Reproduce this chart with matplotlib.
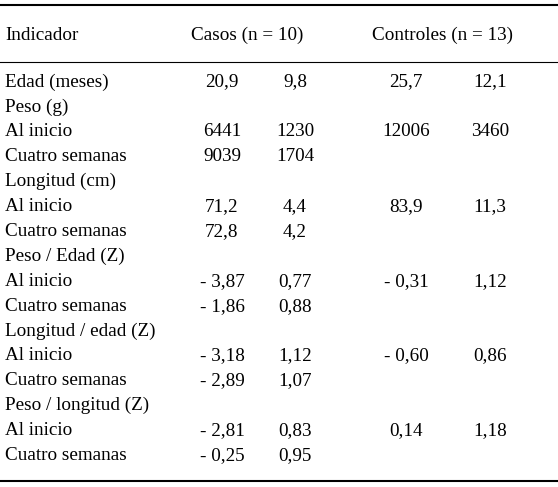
import matplotlib.pyplot as plt

plt.rcParams['font.family'] = ['Liberation Serif', 'DejaVu Serif']

labels = ['Edad (meses)', 'Peso (g)', 'Al inicio', 'Cuatro semanas',
          'Longitud (cm)', 'Al inicio', 'Cuatro semanas',
          'Peso / Edad (Z)', 'Al inicio', 'Cuatro semanas',
          'Longitud / edad (Z)', 'Al inicio', 'Cuatro semanas',
          'Peso / longitud (Z)', 'Al inicio', 'Cuatro semanas']
casos_media = ['20,9', '', '6441', '9039', '', '71,2', '72,8', '', '- 3,87', '- 1,86',
               '', '- 3,18', '- 2,89', '', '- 2,81', '- 0,25']
casos_de = ['9,8', '', '1230', '1704', '', '4,4', '4,2', '', '0,77', '0,88',
            '', '1,12', '1,07', '', '0,83', '0,95']
ctrl_media = ['25,7', '', '12006', '', '', '83,9', '', '', '- 0,31', '',
              '', '- 0,60', '', '', '0,14', '']
ctrl_de = ['12,1', '', '3460', '', '', '11,3', '', '', '1,12', '',
           '', '0,86', '', '', '1,18', '']

W, H = 558, 487
fig = plt.figure(figsize=(W / 100, H / 100), dpi=100)
ax = fig.add_axes([0, 0, 1, 1])
ax.set_xlim(0, W)
ax.set_ylim(H, 0)
ax.axis('off')

fs = 13.8
ax.text(5, 35, 'Indicador', fontsize=fs, va='center', ha='left')
ax.text(247, 35, 'Casos (n = 10)', fontsize=fs, va='center', ha='center')
ax.text(442, 35, 'Controles (n = 13)', fontsize=fs, va='center', ha='center')

ax.plot([0, W], [5, 5], color='black', lw=1.5)
ax.plot([0, W], [62, 62], color='black', lw=0.8)
ax.plot([0, W], [481, 481], color='black', lw=1.5)

y0, dy = 82, 24.9
for i, lab in enumerate(labels):
    y = y0 + i * dy
    ax.text(5, y, lab, fontsize=fs, va='center', ha='left')
    ax.text(222, y, casos_media[i], fontsize=fs, va='center', ha='center')
    ax.text(295, y, casos_de[i], fontsize=fs, va='center', ha='center')
    ax.text(406, y, ctrl_media[i], fontsize=fs, va='center', ha='center')
    ax.text(490, y, ctrl_de[i], fontsize=fs, va='center', ha='center')

fig.savefig('out.png', dpi=100)
